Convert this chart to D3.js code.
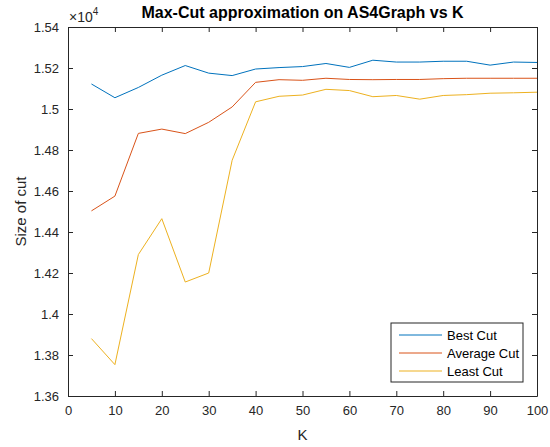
<!DOCTYPE html>
<html>
<head>
<meta charset="utf-8">
<script src="https://cdn.jsdelivr.net/npm/d3@7"></script>
<style>
  body { margin: 0; background: #fff; }
  text { font-family: "Liberation Sans", Arial, sans-serif; }
  .tick text { fill: #262626; font-size: 13px; }
  .axis path, .axis line { stroke: #262626; }
</style>
</head>
<body>
<div id="chart"></div>
<script>
// values are in units of 1e4
const kValues = [5, 10, 15, 20, 25, 30, 35, 40, 45, 50, 55, 60, 65, 70, 75, 80, 85, 90, 95, 100];
const bestCut = [1.5122, 1.5055, 1.5105, 1.5165, 1.5212, 1.5175, 1.5163, 1.5195, 1.5202, 1.5207, 1.5222, 1.5203, 1.5238, 1.5229, 1.5229, 1.5233, 1.5233, 1.5214, 1.5229, 1.5227];
const averageCut = [1.4503, 1.4575, 1.4881, 1.4902, 1.4880, 1.4935, 1.5010, 1.5130, 1.5143, 1.5140, 1.5150, 1.5144, 1.5143, 1.5144, 1.5144, 1.5148, 1.5150, 1.5150, 1.5150, 1.5150];
const leastCut = [1.3880, 1.3753, 1.4290, 1.4465, 1.4156, 1.4200, 1.4750, 1.5035, 1.5062, 1.5068, 1.5096, 1.5090, 1.5060, 1.5066, 1.5048, 1.5066, 1.5070, 1.5077, 1.5079, 1.5082];
const seriesNames = ["Best Cut", "Average Cut", "Least Cut"];
const seriesColors = ["#0072BD", "#D95319", "#EDB120"];
const xTicks = [0, 10, 20, 30, 40, 50, 60, 70, 80, 90, 100];
const yTicks = [1.36, 1.38, 1.40, 1.42, 1.44, 1.46, 1.48, 1.50, 1.52, 1.54];

const W = 550, H = 447;
const margin = {top: 27, right: 13, bottom: 51, left: 68};
const iw = W - margin.left - margin.right;
const ih = H - margin.top - margin.bottom;

const svg = d3.select("#chart").append("svg")
    .attr("width", W)
    .attr("height", H);

const g = svg.append("g").attr("transform", `translate(${margin.left},${margin.top})`);

const x = d3.scaleLinear().domain([0, 100]).range([0, iw]);
const y = d3.scaleLinear().domain([1.36, 1.54]).range([ih, 0]);

// axes with inward ticks, box on
g.append("g").attr("class", "axis")
    .attr("transform", `translate(0,${ih})`)
    .call(d3.axisBottom(x).tickValues(xTicks).tickSizeInner(-5).tickSizeOuter(0).tickPadding(10).tickFormat(d3.format("d")));

g.append("g").attr("class", "axis")
    .call(d3.axisLeft(y).tickValues(yTicks).tickSizeInner(-5).tickSizeOuter(0).tickPadding(9).tickFormat(d => +d.toFixed(2)));

g.append("g").attr("class", "axis")
    .call(d3.axisTop(x).tickValues(xTicks).tickSizeInner(-5).tickSizeOuter(0).tickFormat(""));

g.append("g").attr("class", "axis")
    .attr("transform", `translate(${iw},0)`)
    .call(d3.axisRight(y).tickValues(yTicks).tickSizeInner(-5).tickSizeOuter(0).tickFormat(""));

g.selectAll(".axis .domain").attr("stroke-width", 1);

// lines
const allSeries = [bestCut, averageCut, leastCut];
const line = d3.line()
    .x((d, i) => x(kValues[i]))
    .y(d => y(d));

g.selectAll(".series")
    .data(allSeries)
    .enter()
    .append("path")
    .attr("class", "series")
    .attr("d", line)
    .attr("fill", "none")
    .attr("stroke", (d, i) => seriesColors[i])
    .attr("stroke-width", 1);

// exponent label
const expo = svg.append("text")
    .attr("x", margin.left + 1)
    .attr("y", 22)
    .attr("font-size", 14)
    .attr("fill", "#262626");
expo.append("tspan").text("\u00d710");
expo.append("tspan").attr("dy", -7).attr("font-size", 10).text("4");

// title
svg.append("text")
    .attr("x", margin.left + iw / 2)
    .attr("y", 18)
    .attr("text-anchor", "middle")
    .attr("font-size", 16)
    .attr("font-weight", "bold")
    .attr("fill", "#000")
    .text("Max-Cut approximation on AS4Graph vs K");

// axis labels
svg.append("text")
    .attr("x", margin.left + iw / 2)
    .attr("y", 440)
    .attr("text-anchor", "middle")
    .attr("font-size", 15)
    .attr("fill", "#262626")
    .text("K");

svg.append("text")
    .attr("transform", `translate(26,${margin.top + ih / 2}) rotate(-90)`)
    .attr("text-anchor", "middle")
    .attr("font-size", 15)
    .attr("fill", "#262626")
    .text("Size of cut");

// legend
const legend = svg.append("g").attr("transform", "translate(391,323)");
legend.append("rect")
    .attr("width", 132)
    .attr("height", 59)
    .attr("fill", "#fff")
    .attr("stroke", "#262626")
    .attr("stroke-width", 1);

const rows = legend.selectAll(".row")
    .data(seriesNames)
    .enter()
    .append("g")
    .attr("transform", (d, i) => `translate(0,${12 + i * 18})`);

rows.append("line")
    .attr("x1", 8).attr("x2", 51)
    .attr("stroke", (d, i) => seriesColors[i])
    .attr("stroke-width", 1);

rows.append("text")
    .attr("x", 56)
    .attr("y", 4.5)
    .attr("font-size", 13)
    .attr("fill", "#000")
    .text(d => d);
</script>
</body>
</html>
